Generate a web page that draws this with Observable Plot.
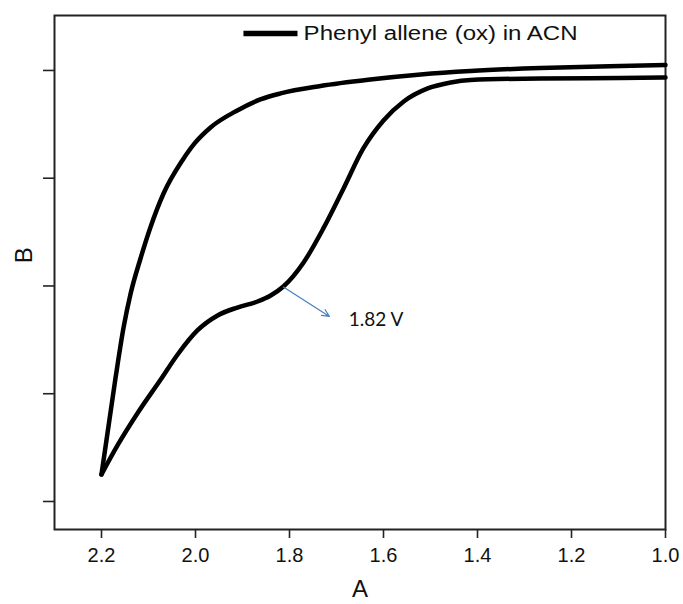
<!DOCTYPE html>
<html>
<head>
<meta charset="utf-8">
<script src="https://cdn.jsdelivr.net/npm/d3@7"></script>
<script src="https://cdn.jsdelivr.net/npm/@observablehq/plot@0.6"></script>
<style>
  html, body { margin: 0; padding: 0; background: #fff; }
  #chart svg { display: block; }
</style>
</head>
<body>
<div id="chart"></div>
<script>
// Upper branch (ordered by increasing potential, ending at the 2.2 V vertex)
const upperPotential = [1.000, 1.096, 1.266, 1.415, 1.521, 1.628, 1.734, 1.819, 1.862, 1.911, 1.968, 2.002, 2.028, 2.068, 2.096, 2.117, 2.138, 2.153, 2.170, 2.200];
const upperCurrent   = [4.051, 4.042, 4.023, 3.995, 3.963, 3.916, 3.856, 3.787, 3.731, 3.629, 3.471, 3.323, 3.165, 2.858, 2.543, 2.255, 1.930, 1.615, 1.151, 0.251];

// Lower branch with the 1.82 V shoulder (ordered by increasing potential)
const lowerPotential = [1.000, 1.096, 1.266, 1.415, 1.457, 1.506, 1.557, 1.600, 1.643, 1.685, 1.728, 1.770, 1.813, 1.840, 1.868, 1.911, 1.953, 1.996, 2.038, 2.074, 2.121, 2.166, 2.200];
const lowerCurrent   = [3.935, 3.930, 3.926, 3.912, 3.889, 3.833, 3.712, 3.536, 3.276, 2.905, 2.534, 2.218, 1.995, 1.912, 1.856, 1.800, 1.726, 1.587, 1.364, 1.132, 0.835, 0.520, 0.251];

// Axis ticks
const xTicks = [2.2, 2.0, 1.8, 1.6, 1.4, 1.2, 1.0];
const yTicks = [0, 1, 2, 3, 4];
const xDomain = [2.3, 1.0];
const yDomain = [-0.26, 4.51];

// Annotations
const legendLabel = "Phenyl allene (ox) in ACN";
const legendLine = [{x1: 1.898, x2: 1.783, y: 4.343}];
const legendText = [{x: 1.770, y: 4.343, text: legendLabel}];
const peakArrow = [{x1: 1.813, y1: 1.990, x2: 1.715, y2: 1.717}];
const peakLabel = [{x: 1.674, y: 1.689, text: "1.82 V"}];
const xTitle = "A";
const yTitle = "B";

const curve = [
  ...upperPotential.map((x, i) => ({x, y: upperCurrent[i], branch: "upper"})),
  ...lowerPotential.map((x, i) => ({x, y: lowerCurrent[i], branch: "lower"}))
];

const chart = Plot.plot({
  width: 683,
  height: 604,
  marginLeft: 54,
  marginRight: 18,
  marginTop: 15,
  marginBottom: 75,
  style: {fontFamily: "'Liberation Sans', Arial, sans-serif", color: "#111", background: "#fff"},
  x: {domain: xDomain},
  y: {domain: yDomain},
  marks: [
    Plot.frame({stroke: "#222", strokeWidth: 2}),
    Plot.axisX({ticks: xTicks, tickSize: 9, tickPadding: 9, tickFormat: d3.format(".1f"), fontSize: 20, stroke: "#222", strokeWidth: 1.6, label: null}),
    Plot.axisY({ticks: yTicks, tickSize: 11, tickFormat: () => "", stroke: "#222", strokeWidth: 1.6, label: null}),
    Plot.text([xTitle], {frameAnchor: "bottom", dy: 67, fontSize: 24, fill: "#111"}),
    Plot.text([yTitle], {y: [2.21], frameAnchor: "left", dx: -30, rotate: -90, fontSize: 24, fill: "#111"}),
    Plot.line(curve, {x: "x", y: "y", z: "branch", stroke: "black", strokeWidth: 4.5, curve: "monotone-x", strokeLinejoin: "round", strokeLinecap: "round"}),
    Plot.link(legendLine, {x1: "x1", x2: "x2", y1: "y", y2: "y", stroke: "black", strokeWidth: 5.5}),
    Plot.text(legendText, {x: "x", y: "y", text: "text", textAnchor: "start", fontSize: 20, fill: "#111"}),
    Plot.arrow(peakArrow, {x1: "x1", y1: "y1", x2: "x2", y2: "y2", stroke: "#4a7ebb", strokeWidth: 1.2, headLength: 10, headAngle: 50}),
    Plot.text(peakLabel, {x: "x", y: "y", text: "text", textAnchor: "start", fontSize: 19, fontFamily: "Lato, 'Open Sans', sans-serif", fill: "#111"})
  ]
});

d3.select(chart).selectAll("text")
  .filter(function() { return this.textContent === legendLabel; })
  .attr("textLength", 274)
  .attr("lengthAdjust", "spacingAndGlyphs");

document.getElementById("chart").appendChild(chart);
</script>
</body>
</html>
